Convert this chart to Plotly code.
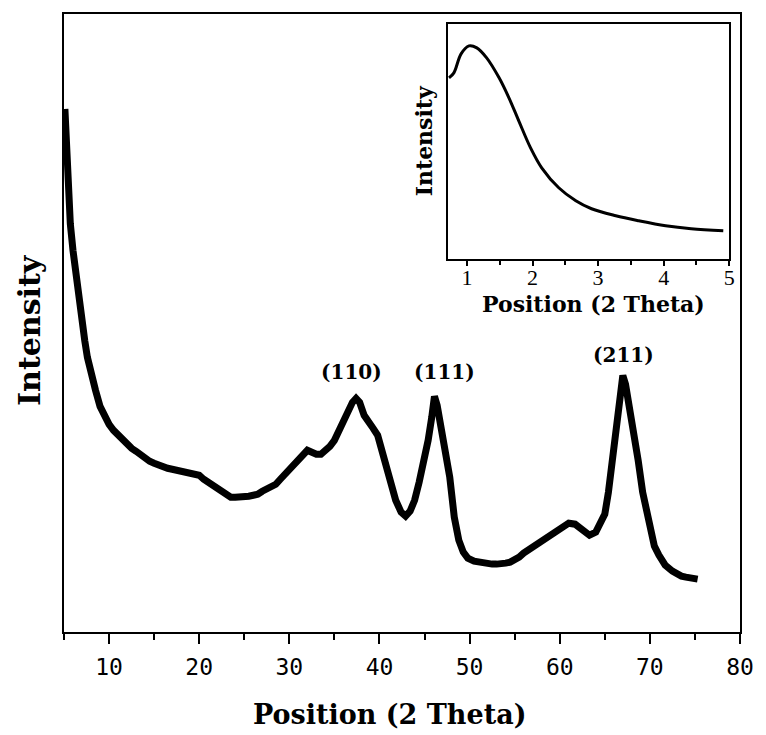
import plotly.graph_objects as go

# Main XRD pattern (2 theta, arbitrary intensity)
main_x = [5.1, 5.2, 5.3, 5.5, 5.7, 6.0, 6.3, 6.6, 7.0, 7.3, 7.6, 8.0, 8.5, 9.0, 9.5,
          10.0, 10.5, 11.0, 11.5, 12.0, 12.5, 13.0, 13.5, 14.0, 14.5, 15.0, 15.5, 16.0, 16.5,
          17.0, 17.5, 18.0, 18.5, 19.0, 19.5, 20.0, 20.5, 21.0, 21.5, 22.0, 22.5, 23.0, 23.5,
          24.0, 24.5, 25.0, 25.5, 26.0, 26.5, 27.0, 27.5, 28.0, 28.5, 29.0, 29.5, 30.0, 30.5,
          31.0, 31.5, 32.0, 32.5, 33.0, 33.5, 34.0, 34.5, 35.0, 35.5, 36.0, 36.5, 37.0, 37.4,
          37.8, 38.3, 38.8, 39.3, 39.8, 40.3, 40.8, 41.3, 41.8, 42.4, 42.9, 43.4, 43.9, 44.4,
          44.9, 45.4, 45.8, 46.1, 46.4, 46.8, 47.3, 47.8, 48.3, 48.8, 49.3, 49.8, 50.5, 51.0,
          51.5, 52.0, 52.5, 53.0, 53.5, 54.0, 54.5, 55.0, 55.5, 56.0, 56.5, 57.0, 57.5, 58.0,
          58.5, 59.0, 59.5, 60.0, 60.5, 61.0, 61.7, 62.5, 63.3, 64.0, 64.6, 65.0, 65.4, 65.7,
          66.1, 66.5, 66.8, 67.0, 67.3, 67.6, 67.9, 68.3, 68.7, 69.2, 69.8, 70.5, 71.0, 71.7,
          72.5, 73.1, 73.5, 74.0, 74.5, 75.3]
main_y = [524, 500, 465, 435, 409, 382, 359, 337, 315, 292, 275, 258, 242, 226, 216,
          208, 202, 197, 192, 189, 184, 181, 177, 175, 171, 169, 167, 166, 164,
          163, 162, 161, 161, 160, 159, 157, 153, 150, 145, 142, 139, 137, 135,
          135, 135, 135, 136, 137, 138, 141, 143, 145, 148, 153, 158, 163, 168,
          173, 178, 182, 180, 178, 178, 181, 186, 192, 201, 212, 222, 230, 234,
          230, 217, 209, 204, 197, 181, 166, 147, 132, 120, 116, 121, 132, 150,
          170, 192, 215, 236, 227, 207, 185, 155, 115, 92, 80, 74, 71, 70,
          69, 69, 68, 68, 68, 69, 70, 72, 75, 79, 82, 86, 89, 93,
          96, 99, 102, 105, 107, 109, 108, 102, 97, 100, 110, 118, 140, 162,
          195, 222, 250, 257, 248, 232, 220, 196, 172, 140, 112, 86, 77, 67,
          61, 57, 56, 55, 54, 53]

# Inset: low-angle region
inset_x = [0.726, 0.80, 0.91, 1.03, 1.15, 1.30, 1.49, 1.64, 1.79, 1.97, 2.14, 2.40,
           2.66, 2.90, 3.27, 3.62, 4.03, 4.42, 4.91]
inset_y = [181, 186, 205, 213, 211, 201, 181, 161, 138, 111, 91, 71,
           58, 50, 43, 38, 33, 30, 28]

peak_labels = ["(110)", "(111)", "(211)"]
peak_x = [36.9, 47.2, 67.1]
peak_y = [260, 260, 277]

main_ticks = [10, 20, 30, 40, 50, 60, 70, 80]
inset_ticks = [1, 2, 3, 4, 5]

fig = go.Figure()
fig.add_trace(go.Scatter(x=main_x, y=main_y, mode="lines",
                         line=dict(color="black", width=7), xaxis="x", yaxis="y",
                         showlegend=False, hoverinfo="skip"))
fig.add_trace(go.Scatter(x=inset_x, y=inset_y, mode="lines",
                         line=dict(color="black", width=3, shape="spline"), xaxis="x2", yaxis="y2",
                         showlegend=False, hoverinfo="skip"))

for t, px, py in zip(peak_labels, peak_x, peak_y):
    fig.add_annotation(x=px, y=py, xref="x", yref="y", text=t, showarrow=False,
                       xanchor="center", yanchor="middle",
                       font=dict(family="DejaVu Serif", size=20, color="black", weight="bold"))

serif_b = dict(family="DejaVu Serif", color="black", weight="bold")
fig.add_annotation(x=0.481, y=-0.134, xref="paper", yref="paper", text="Position (2 Theta)",
                   xanchor="center", yanchor="middle",
                   showarrow=False, font=dict(size=27, **serif_b))
fig.add_annotation(x=-0.051, y=0.488, xref="paper", yref="paper", text="Intensity",
                   xanchor="center", yanchor="middle",
                   textangle=-90, showarrow=False, font=dict(size=30, **serif_b))
fig.add_annotation(x=0.783, y=0.530, xref="paper", yref="paper", text="Position (2 Theta)",
                   xanchor="center", yanchor="middle",
                   showarrow=False, font=dict(size=22, **serif_b))
fig.add_annotation(x=0.532, y=0.795, xref="paper", yref="paper", text="Intensity",
                   xanchor="center", yanchor="middle",
                   textangle=-90, showarrow=False, font=dict(size=22, **serif_b))

fig.update_layout(
    width=766, height=735,
    margin=dict(l=64, r=24, t=13, b=103),
    paper_bgcolor="white", plot_bgcolor="white",
    xaxis=dict(domain=[0, 1], range=[5, 80], tickmode="array", tickvals=main_ticks,
               ticks="outside", ticklen=10, tickwidth=2, tickcolor="black",
               ticklabelstandoff=3,
               minor=dict(dtick=5, ticks="outside", ticklen=6, tickwidth=2, tickcolor="black"),
               showline=True, linewidth=2, linecolor="black", mirror=True,
               showgrid=False, zeroline=False,
               tickfont=dict(family="DejaVu Sans Mono", size=23, color="black")),
    yaxis=dict(domain=[0, 1], range=[0, 619], showticklabels=False, ticks="",
               showline=True, linewidth=2, linecolor="black", mirror=True,
               showgrid=False, zeroline=False),
    xaxis2=dict(domain=[0.568, 0.984], anchor="y2", range=[0.71, 5.0],
                tickmode="array", tickvals=inset_ticks,
                ticks="outside", ticklen=5, tickwidth=2, tickcolor="black",
                ticklabelstandoff=-7,
                minor=dict(dtick=0.5, ticks="outside", ticklen=4, tickwidth=2, tickcolor="black"),
                showline=True, linewidth=2, linecolor="black", mirror=True,
                showgrid=False, zeroline=False,
                tickfont=dict(family="Liberation Serif", size=22, color="black")),
    yaxis2=dict(domain=[0.604, 0.984], anchor="x2", range=[0, 235],
                showticklabels=False, ticks="",
                showline=True, linewidth=2, linecolor="black", mirror=True,
                showgrid=False, zeroline=False),
)

fig.write_html("out.html")
